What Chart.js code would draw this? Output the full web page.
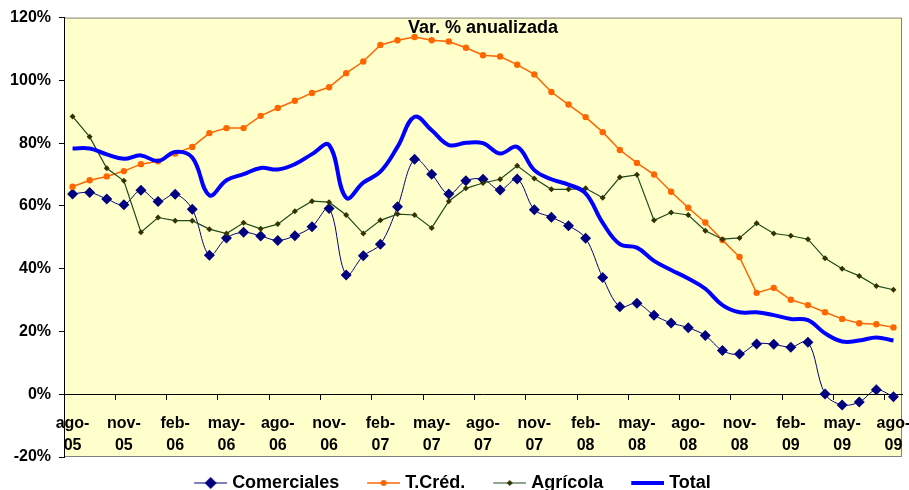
<!DOCTYPE html>
<html><head><meta charset="utf-8">
<script src="https://cdn.jsdelivr.net/npm/chart.js@4.4.1/dist/chart.umd.min.js"></script>
<style>html,body{margin:0;padding:0;background:#fff}#wrap{width:909px;height:490px;position:relative}</style>
</head><body><div id="wrap"><canvas id="c"></canvas></div>
<script>
const categories = ['ago-05','sep-05','oct-05','nov-05','dic-05','ene-06','feb-06','mar-06','abr-06','may-06','jun-06','jul-06','ago-06','sep-06','oct-06','nov-06','dic-06','ene-07','feb-07','mar-07','abr-07','may-07','jun-07','jul-07','ago-07','sep-07','oct-07','nov-07','dic-07','ene-08','feb-08','mar-08','abr-08','may-08','jun-08','jul-08','ago-08','sep-08','oct-08','nov-08','dic-08','ene-09','feb-09','mar-09','abr-09','may-09','jun-09','jul-09','ago-09'];
const comerciales = [63.8,64.3,62.2,60.4,65.0,61.4,63.7,58.9,44.3,49.8,51.6,50.4,49.0,50.5,53.4,59.2,38.0,44.1,47.8,59.7,74.9,70.1,63.8,68.0,68.5,65.1,68.6,58.8,56.4,53.7,49.7,37.2,27.9,29.0,25.2,22.7,21.2,18.7,13.9,12.8,16.0,15.9,15.0,16.6,0.1,-3.4,-2.5,1.4,-0.8];
const tcred = [66.1,68.2,69.4,71.1,73.3,74.2,76.7,78.8,83.2,84.8,84.8,88.7,91.2,93.5,96.0,97.8,102.3,106.0,111.3,112.8,113.8,112.8,112.4,110.4,108.0,107.6,105.0,101.9,96.3,92.3,88.3,83.5,77.8,73.7,70.0,64.5,59.4,54.7,49.1,43.7,32.3,33.9,30.1,28.4,26.1,24.0,22.6,22.3,21.3];
const agricola = [88.5,82.0,72.0,68.0,51.6,56.3,55.3,55.3,52.6,51.2,54.6,52.7,54.2,58.3,61.5,61.2,57.1,51.2,55.4,57.4,57.1,53.0,61.5,65.6,67.3,68.5,72.8,68.7,65.3,65.3,65.6,62.6,69.1,69.9,55.4,57.9,57.1,52.1,49.4,49.8,54.5,51.2,50.5,49.4,43.3,40.0,37.7,34.5,33.3];
const total = [78.3,78.3,76.4,75.0,76.1,74.3,77.2,75.4,63.4,68.2,70.1,72.1,71.6,73.3,76.5,79.4,62.6,67.4,70.9,78.8,88.4,84.1,79.4,80.1,80.0,76.7,78.8,71.4,68.5,66.8,64.0,54.6,47.8,46.7,42.5,39.6,36.9,33.6,28.4,26.1,26.1,25.2,24.0,23.6,19.4,16.8,17.1,18.1,17.1];
const seriesNames = ['Comerciales','T.Créd.','Agrícola','Total'];
const chartTitle = 'Var. % anualizada';
const yMin = -20, yMax = 120, yStep = 20;

Chart.defaults.font.family = '"Liberation Sans", Arial, sans-serif';
Chart.defaults.font.weight = 'bold';
Chart.defaults.color = '#000';

function legendImg(color, lw, shape, r, fill) {
  const W = 48, H = 16;
  const c = document.createElement('canvas'); c.width = W; c.height = H;
  const g = c.getContext('2d');
  const x0 = 15, x1 = 48, y = H / 2;
  g.strokeStyle = color; g.lineWidth = lw;
  g.beginPath(); g.moveTo(x0, y); g.lineTo(x1, y); g.stroke();
  const cx = (x0 + x1) / 2;
  g.fillStyle = fill;
  if (shape === 'diamond') { g.beginPath(); g.moveTo(cx, y - r); g.lineTo(cx + r, y); g.lineTo(cx, y + r); g.lineTo(cx - r, y); g.closePath(); g.fill(); }
  else if (shape === 'circle') { g.beginPath(); g.arc(cx, y, r, 0, Math.PI * 2); g.fill(); }
  return c;
}
const legendImages = [
  legendImg('#000080', 1, 'diamond', 6, '#000080'),
  legendImg('#FF6600', 1.5, 'circle', 3, '#FF6600'),
  legendImg('#1E4A1E', 1, 'diamond', 3, '#333300'),
  legendImg('#0000FF', 4, 'none', 0, '#0000FF')
];

const framePlugin = {
  id: 'frame',
  beforeDraw(chart) {
    const { ctx, chartArea: a } = chart;
    ctx.save();
    ctx.fillStyle = '#FFFFCC';
    ctx.fillRect(a.left, a.top, a.right - a.left, a.bottom - a.top);
    ctx.strokeStyle = '#808080'; ctx.lineWidth = 1;
    ctx.strokeRect(a.left + 0.5, a.top + 0.5, a.right - a.left - 1, a.bottom - a.top - 1);
    ctx.restore();
  },
  afterDraw(chart) {
    const { ctx, chartArea: a } = chart;
    ctx.save();
    ctx.font = 'bold 18px "Liberation Sans", Arial, sans-serif';
    ctx.fillStyle = '#000'; ctx.textAlign = 'center'; ctx.textBaseline = 'middle';
    ctx.fillText(chartTitle, (a.left + a.right) / 2, a.top + 10);
    ctx.restore();
  }
};

new Chart(document.getElementById('c'), {
  type: 'line',
  data: {
    labels: categories,
    datasets: [
      { label: seriesNames[0], data: comerciales, borderColor: '#000080', backgroundColor: '#000080', borderWidth: 1, pointStyle: 'rectRot', pointRadius: 5.5, pointBorderWidth: 0, tension: 0.35, order: 4 },
      { label: seriesNames[1], data: tcred, borderColor: '#FF6600', backgroundColor: '#FF6600', borderWidth: 1.5, pointStyle: 'circle', pointRadius: 3.2, pointBorderWidth: 0, tension: 0, order: 3 },
      { label: seriesNames[2], data: agricola, borderColor: '#1E4A1E', backgroundColor: '#333300', borderWidth: 1.2, pointStyle: 'rectRot', pointRadius: 3, pointBorderWidth: 0, tension: 0, order: 2 },
      { label: seriesNames[3], data: total, borderColor: '#0000FF', backgroundColor: '#0000FF', borderWidth: 4, pointRadius: 0, tension: 0.4, order: 1 }
    ]
  },
  options: {
    responsive: true, maintainAspectRatio: false, animation: false,
    layout: { padding: { top: 17, right: 7, left: -8, bottom: -12 } },
    plugins: {
      tooltip: { enabled: false },
      title: { display: false },
      legend: {
        position: 'bottom',
        labels: {
          usePointStyle: true, pointStyleWidth: 40, padding: 17,
          font: { size: 18, weight: 'bold' }, color: '#000',
          generateLabels: (chart) => chart.data.datasets.map((ds, i) => ({
            text: ds.label, pointStyle: legendImages[i], fillStyle: 'transparent', strokeStyle: 'transparent',
            lineWidth: 0, hidden: false, datasetIndex: i, fontColor: '#000'
          }))
        }
      }
    },
    scales: {
      x: {
        type: 'category', offset: true, position: { y: 0 },
        grid: { offset: true, drawOnChartArea: false, drawTicks: true, tickLength: 5,
          tickColor: (ctx) => (ctx.index % 3 === 0 ? '#000' : 'rgba(0,0,0,0)') },
        border: { display: true, color: '#000', width: 1 },
        ticks: {
          autoSkip: false, maxRotation: 0, minRotation: 0, padding: 13,
          font: { size: 16, weight: 'bold', lineHeight: 1.375 },
          callback: function (v, i) {
            if (i % 3 !== 0) return '';
            const p = categories[i].split('-');
            return [p[0] + '-', p[1]];
          }
        },
        afterFit(s) { s.paddingLeft = 0; s.paddingRight = 0; }
      },
      y: {
        min: yMin, max: yMax,
        grid: { drawOnChartArea: false, drawTicks: true, tickLength: 5, tickColor: '#000' },
        border: { display: true, color: '#000', width: 1 },
        ticks: { stepSize: yStep, padding: 8, font: { size: 16, weight: 'bold' }, callback: (v) => v + '%' },
        afterFit(s) { s.width = 72; }
      }
    }
  },
  plugins: [framePlugin]
});
</script></body></html>
